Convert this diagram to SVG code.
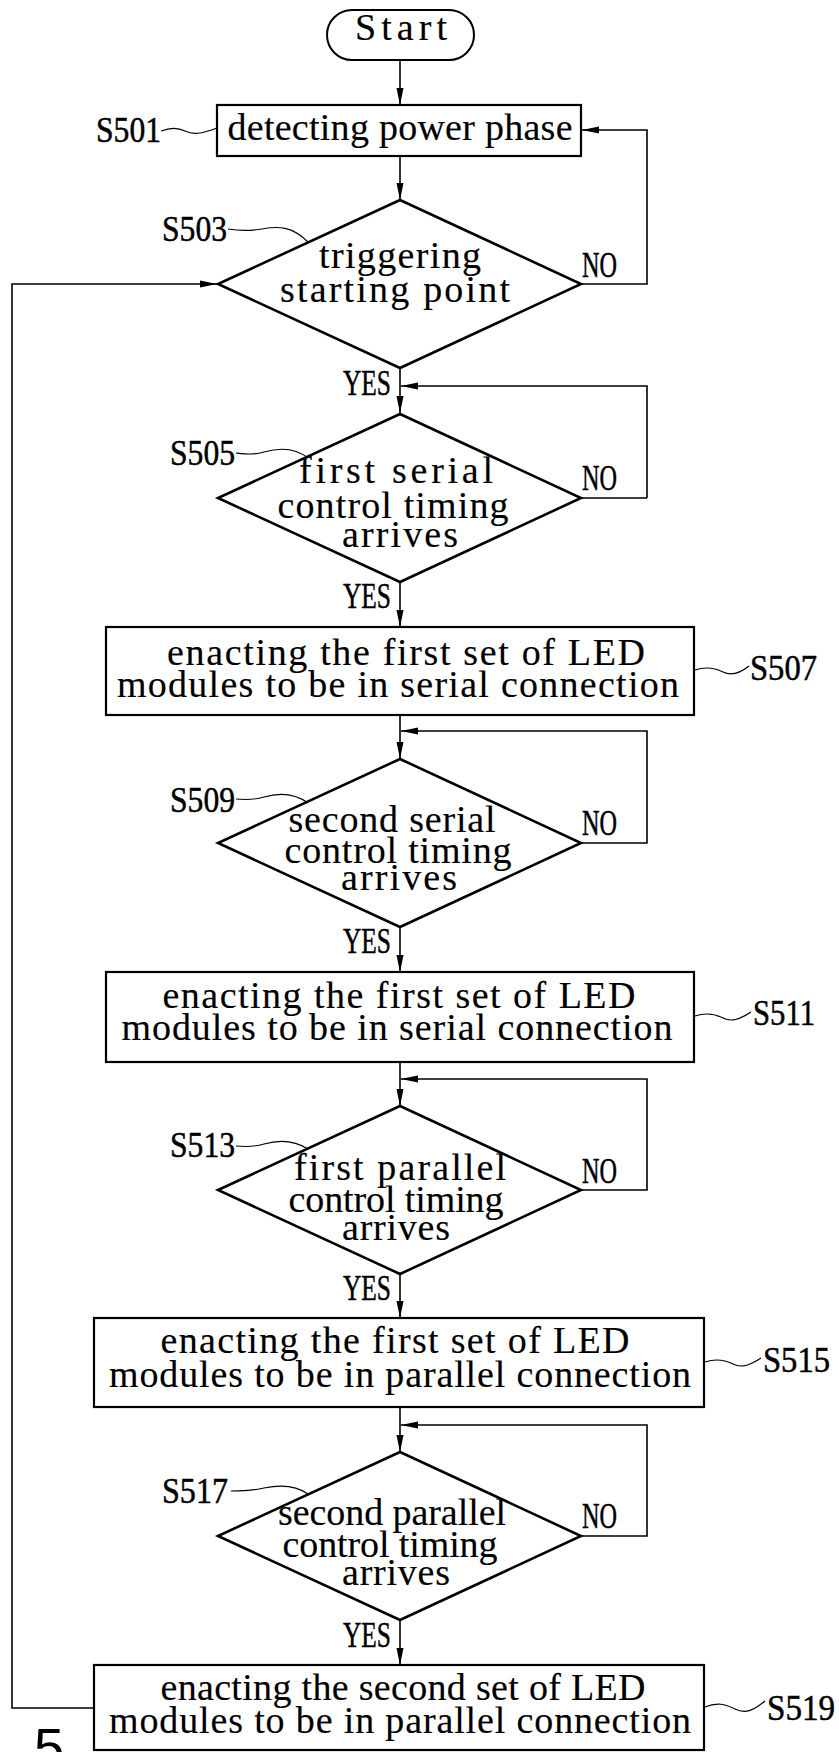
<svg xmlns="http://www.w3.org/2000/svg" width="839" height="1752" viewBox="0 0 839 1752">
<style>
.bg{fill:#fff}
.box{fill:#fff;stroke:#000;stroke-width:2.2}
.dia{fill:#fff;stroke:#000;stroke-width:2.6;stroke-linejoin:miter}
.term{fill:#fff;stroke:#000;stroke-width:2}
.t{font-family:"Liberation Serif",serif;font-size:38px;fill:#000;stroke:#000;stroke-width:0.15;text-anchor:middle}
.l{font-family:"Liberation Serif",serif;font-size:36px;fill:#000;stroke:#000;stroke-width:0.5}
.c{fill:none;stroke:#000;stroke-width:1.6}
.ld{fill:none;stroke:#000;stroke-width:1.2}
.fig{font-family:"Liberation Sans",sans-serif;font-size:54px;fill:#000}
</style>
<defs>
<marker id="ah" markerWidth="18" markerHeight="8" refX="17" refY="4" orient="auto" markerUnits="userSpaceOnUse">
<path d="M0,0.5 L17,4 L0,7.5 z" fill="#000"/>
</marker>
</defs>
<rect class="bg" x="0" y="0" width="839" height="1752"/>

<g id="connectors">
<path class="c" d="M400,60 V105" marker-end="url(#ah)"/>
<path class="c" d="M400,156 V200" marker-end="url(#ah)"/>
<path class="c" d="M581,284 H647 V130 H582" marker-end="url(#ah)"/>
<path class="c" d="M400,368 V413" marker-end="url(#ah)"/>
<path class="c" d="M647,498 V386 H401" marker-end="url(#ah)"/>
<path class="c" d="M581,498 H647"/>
<path class="c" d="M400,582 V627" marker-end="url(#ah)"/>
<path class="c" d="M400,715 V759" marker-end="url(#ah)"/>
<path class="c" d="M581,843 H647 V731 H401" marker-end="url(#ah)"/>
<path class="c" d="M400,927 V972" marker-end="url(#ah)"/>
<path class="c" d="M400,1062 V1106" marker-end="url(#ah)"/>
<path class="c" d="M581,1190 H647 V1079 H401" marker-end="url(#ah)"/>
<path class="c" d="M400,1274 V1318" marker-end="url(#ah)"/>
<path class="c" d="M400,1407 V1452" marker-end="url(#ah)"/>
<path class="c" d="M581,1536 H647 V1425 H401" marker-end="url(#ah)"/>
<path class="c" d="M400,1620 V1665" marker-end="url(#ah)"/>
<path class="c" d="M94,1708 H12 V284 H217" marker-end="url(#ah)"/>
<text class="l" x="582" y="277" textLength="35" lengthAdjust="spacingAndGlyphs">NO</text>
<text class="l" x="582" y="490" textLength="35" lengthAdjust="spacingAndGlyphs">NO</text>
<text class="l" x="582" y="835" textLength="35" lengthAdjust="spacingAndGlyphs">NO</text>
<text class="l" x="582" y="1183" textLength="35" lengthAdjust="spacingAndGlyphs">NO</text>
<text class="l" x="582" y="1528" textLength="35" lengthAdjust="spacingAndGlyphs">NO</text>
<text class="l" x="343" y="395" textLength="48" lengthAdjust="spacingAndGlyphs">YES</text>
<text class="l" x="343" y="608" textLength="48" lengthAdjust="spacingAndGlyphs">YES</text>
<text class="l" x="343" y="953" textLength="48" lengthAdjust="spacingAndGlyphs">YES</text>
<text class="l" x="343" y="1300" textLength="48" lengthAdjust="spacingAndGlyphs">YES</text>
<text class="l" x="343" y="1647" textLength="48" lengthAdjust="spacingAndGlyphs">YES</text>
</g>

<g id="start">
<rect class="term" x="327" y="10" width="147" height="50" rx="25" ry="25"/>
<text class="t" x="401" y="40" textLength="92" lengthAdjust="spacing">Start</text>
</g>

<g id="S501">
<rect class="box" x="217" y="105" width="364" height="51"/>
<text class="t" x="400" y="140" textLength="345" lengthAdjust="spacing">detecting power phase</text>
<path class="ld" d="M161,131 c8,-3 16,-4 24,0 s16,3 32,-3"/>
<text class="l" x="96" y="142" textLength="65" lengthAdjust="spacingAndGlyphs">S501</text>
</g>

<g id="S503">
<polygon class="dia" points="400,200 581,284 400,368 218,284"/>
<text class="t" x="400" y="268" textLength="162" lengthAdjust="spacing">triggering</text>
<text class="t" x="395" y="302" textLength="230" lengthAdjust="spacing">starting point</text>
<path class="ld" d="M228,229 c12,2 22,2 34,0 c16,-3 30,-3 46,13"/>
<text class="l" x="162" y="241" textLength="65" lengthAdjust="spacingAndGlyphs">S503</text>
</g>

<g id="S505">
<polygon class="dia" points="400,414 581,498 400,582 218,498"/>
<text class="t" x="396" y="483" textLength="194" lengthAdjust="spacing">first serial</text>
<text class="t" x="393" y="518" textLength="231" lengthAdjust="spacing">control timing</text>
<text class="t" x="400" y="547" textLength="116" lengthAdjust="spacing">arrives</text>
<path class="ld" d="M236,453 c10,1 18,2 28,-1 c14,-4 30,-5 44,6"/>
<text class="l" x="170" y="465" textLength="65" lengthAdjust="spacingAndGlyphs">S505</text>
</g>

<g id="S507">
<rect class="box" x="106" y="627" width="588" height="88"/>
<text class="t" x="406" y="665" textLength="478" lengthAdjust="spacing">enacting the first set of LED</text>
<text class="t" x="398" y="697" textLength="562" lengthAdjust="spacing">modules to be in serial connection</text>
<path class="ld" d="M695,670 c12,-4 20,-2 28,2 s16,2 26,-6"/>
<text class="l" x="750" y="680" textLength="67" lengthAdjust="spacingAndGlyphs">S507</text>
</g>

<g id="S509">
<polygon class="dia" points="400,759 581,843 400,927 218,843"/>
<text class="t" x="392" y="832" textLength="207" lengthAdjust="spacing">second serial</text>
<text class="t" x="398" y="863" textLength="227" lengthAdjust="spacing">control timing</text>
<text class="t" x="399" y="890" textLength="116" lengthAdjust="spacing">arrives</text>
<path class="ld" d="M236,799 c10,1 18,1 28,-2 c14,-4 30,-4 44,6"/>
<text class="l" x="170" y="812" textLength="65" lengthAdjust="spacingAndGlyphs">S509</text>
</g>

<g id="S511">
<rect class="box" x="106" y="972" width="588" height="90"/>
<text class="t" x="399" y="1008" textLength="473" lengthAdjust="spacing">enacting the first set of LED</text>
<text class="t" x="397" y="1040" textLength="551" lengthAdjust="spacing">modules to be in serial connection</text>
<path class="ld" d="M695,1016 c12,-4 20,-2 28,2 s16,2 28,-6"/>
<text class="l" x="753" y="1025" textLength="62" lengthAdjust="spacingAndGlyphs">S511</text>
</g>

<g id="S513">
<polygon class="dia" points="400,1106 581,1190 400,1274 218,1190"/>
<text class="t" x="400" y="1180" textLength="212" lengthAdjust="spacing">first parallel</text>
<text class="t" x="396" y="1212" textLength="215" lengthAdjust="spacing">control timing</text>
<text class="t" x="396" y="1240" textLength="108" lengthAdjust="spacing">arrives</text>
<path class="ld" d="M236,1146 c10,1 18,1 28,-2 c14,-4 30,-4 44,5"/>
<text class="l" x="170" y="1157" textLength="65" lengthAdjust="spacingAndGlyphs">S513</text>
</g>

<g id="S515">
<rect class="box" x="94" y="1318" width="610" height="89"/>
<text class="t" x="395" y="1353" textLength="469" lengthAdjust="spacing">enacting the first set of LED</text>
<text class="t" x="400" y="1387" textLength="582" lengthAdjust="spacing">modules to be in parallel connection</text>
<path class="ld" d="M705,1362 c12,-4 20,-2 28,2 s16,2 28,-6"/>
<text class="l" x="763" y="1372" textLength="67" lengthAdjust="spacingAndGlyphs">S515</text>
</g>

<g id="S517">
<polygon class="dia" points="400,1452 581,1536 400,1620 218,1536"/>
<text class="t" x="392" y="1525" textLength="228" lengthAdjust="spacing">second parallel</text>
<text class="t" x="390" y="1557" textLength="215" lengthAdjust="spacing">control timing</text>
<text class="t" x="396" y="1585" textLength="108" lengthAdjust="spacing">arrives</text>
<path class="ld" d="M231,1491 c10,0 20,0 33,-3 c14,-3 30,-4 44,6"/>
<text class="l" x="162" y="1503" textLength="66" lengthAdjust="spacingAndGlyphs">S517</text>
</g>

<g id="S519">
<rect class="box" x="94" y="1665" width="610" height="85"/>
<text class="t" x="403" y="1700" textLength="485" lengthAdjust="spacing">enacting the second set of LED</text>
<text class="t" x="400" y="1733" textLength="582" lengthAdjust="spacing">modules to be in parallel connection</text>
<path class="ld" d="M705,1707 c12,-5 20,-3 30,2 s18,2 30,-8"/>
<text class="l" x="767" y="1720" textLength="68" lengthAdjust="spacingAndGlyphs">S519</text>
</g>

<text class="fig" x="34" y="1766">5</text>
</svg>
